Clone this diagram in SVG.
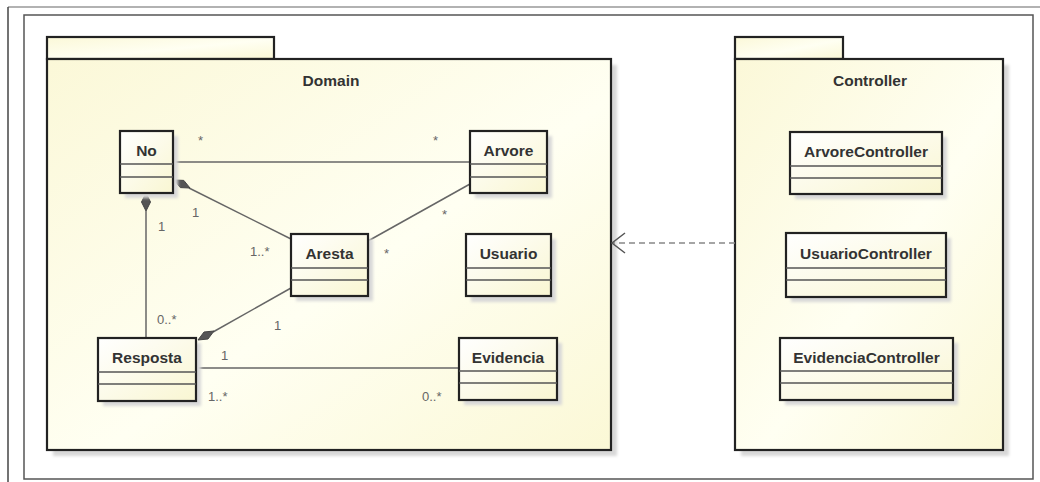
<svg xmlns="http://www.w3.org/2000/svg" width="1040" height="482" viewBox="0 0 1040 482">
<style>
.pkg{fill:url(#pg);stroke:#222;stroke-width:2.2}
.cls{fill:url(#cg);stroke:#222;stroke-width:2.2}
.div{stroke:#555;stroke-width:1.3}
.sh{fill:#d8d8d8;filter:url(#bl)}
.name{font-family:"Liberation Sans",Arial,sans-serif;font-size:15.5px;font-weight:bold;fill:#333;text-anchor:middle}
.pname{font-family:"Liberation Sans",Arial,sans-serif;font-size:15.5px;font-weight:bold;fill:#333;text-anchor:middle}
.lbl{font-family:"Liberation Sans",Arial,sans-serif;font-size:13px;fill:#666}
.ln{stroke:#666;stroke-width:1.5;fill:none}
.dia{fill:#555;stroke:#444;stroke-width:1}
.dep{stroke:#888;stroke-width:1.5;stroke-dasharray:6 4;fill:none}
</style>
<defs>
<linearGradient id="pg" x1="0" y1="0" x2="1" y2="1">
<stop offset="0" stop-color="#fbf8d8"/>
<stop offset="0.55" stop-color="#fffff2"/>
<stop offset="1" stop-color="#fbf8d6"/>
</linearGradient>
<linearGradient id="cg" x1="0" y1="0" x2="1" y2="1">
<stop offset="0" stop-color="#ffffff"/>
<stop offset="1" stop-color="#f9f6d2"/>
</linearGradient>
<filter id="bl" x="-10%" y="-10%" width="120%" height="120%"><feGaussianBlur stdDeviation="1.5"/></filter>
</defs>
<rect width="1040" height="482" fill="#ffffff"/>
<g id="frame">
<line x1="8" y1="7" x2="1040" y2="7" stroke="#999" stroke-width="1.5"/>
<line x1="8" y1="7" x2="8" y2="482" stroke="#444" stroke-width="1.5"/>
<rect x="24" y="15" width="1009" height="464" fill="none" stroke="#555" stroke-width="1.5"/>
</g>
<g id="pkg-domain">
<rect class="sh" x="53" y="65" width="564" height="391"/>
<rect class="pkg" x="47" y="37" width="227" height="22"/>
<rect class="pkg" x="47" y="59" width="564" height="391"/>
<text class="pname" x="331" y="86">Domain</text>
</g>
<g id="pkg-controller">
<rect class="sh" x="741" y="65" width="268" height="391"/>
<rect class="pkg" x="735" y="37" width="108" height="22"/>
<rect class="pkg" x="735" y="59" width="268" height="391"/>
<text class="pname" x="870" y="86">Controller</text>
</g>
<g id="connectors">
<line class="ln" x1="173" y1="162" x2="470" y2="162"/>
<line class="ln" x1="189" y1="188" x2="291" y2="239"/>
<line class="ln" x1="146" y1="211" x2="146" y2="338"/>
<line class="ln" x1="470" y1="184" x2="368" y2="241"/>
<line class="ln" x1="213" y1="332" x2="291" y2="288"/>
<line class="ln" x1="196" y1="368" x2="459" y2="368"/>
<polygon class="dia" points="174,180 183.8,180.4 190,188 180.3,187.6"/>
<polygon class="dia" points="146,193 150.5,202 146,211 141.5,202"/>
<polygon class="dia" points="198,340 204,332 214,331 208,339"/>
<line class="dep" x1="735" y1="243" x2="613" y2="243"/>
<polyline points="625,233 612,243 625,253" fill="none" stroke="#555" stroke-width="1.5"/>
<text class="lbl" x="198" y="145">*</text>
<text class="lbl" x="433" y="145">*</text>
<text class="lbl" x="192" y="217">1</text>
<text class="lbl" x="250" y="256">1..*</text>
<text class="lbl" x="158" y="231">1</text>
<text class="lbl" x="157" y="324">0..*</text>
<text class="lbl" x="442" y="219">*</text>
<text class="lbl" x="384" y="258">*</text>
<text class="lbl" x="274" y="330">1</text>
<text class="lbl" x="221" y="360">1</text>
<text class="lbl" x="208" y="401">1..*</text>
<text class="lbl" x="422" y="401">0..*</text>
</g>
<g id="No">
<rect class="sh" x="125" y="136" width="53" height="62"/>
<rect class="cls" x="120" y="131" width="53" height="62"/>
<line class="div" x1="120" y1="164" x2="173" y2="164"/>
<line class="div" x1="120" y1="177" x2="173" y2="177"/>
<text class="name" x="146.5" y="156">No</text>
</g>
<g id="Arvore">
<rect class="sh" x="475" y="136" width="77" height="62"/>
<rect class="cls" x="470" y="131" width="77" height="62"/>
<line class="div" x1="470" y1="164" x2="547" y2="164"/>
<line class="div" x1="470" y1="177" x2="547" y2="177"/>
<text class="name" x="508.5" y="156">Arvore</text>
</g>
<g id="Aresta">
<rect class="sh" x="296" y="239" width="77" height="62"/>
<rect class="cls" x="291" y="234" width="77" height="62"/>
<line class="div" x1="291" y1="268" x2="368" y2="268"/>
<line class="div" x1="291" y1="280" x2="368" y2="280"/>
<text class="name" x="329.5" y="259">Aresta</text>
</g>
<g id="Usuario">
<rect class="sh" x="471" y="239" width="85" height="63"/>
<rect class="cls" x="466" y="234" width="85" height="62"/>
<line class="div" x1="466" y1="268" x2="551" y2="268"/>
<line class="div" x1="466" y1="280" x2="551" y2="280"/>
<text class="name" x="508.5" y="259">Usuario</text>
</g>
<g id="Evidencia">
<rect class="sh" x="464" y="343" width="98" height="62"/>
<rect class="cls" x="459" y="338" width="98" height="62"/>
<line class="div" x1="459" y1="371" x2="557" y2="371"/>
<line class="div" x1="459" y1="383" x2="557" y2="383"/>
<text class="name" x="508" y="363">Evidencia</text>
</g>
<g id="Resposta">
<rect class="sh" x="103" y="343" width="98" height="63"/>
<rect class="cls" x="98" y="338" width="98" height="63"/>
<line class="div" x1="98" y1="372" x2="196" y2="372"/>
<line class="div" x1="98" y1="384" x2="196" y2="384"/>
<text class="name" x="147" y="363">Resposta</text>
</g>
<g id="ArvoreController">
<rect class="sh" x="795" y="137" width="152" height="62"/>
<rect class="cls" x="790" y="132" width="152" height="62"/>
<line class="div" x1="790" y1="166" x2="942" y2="166"/>
<line class="div" x1="790" y1="178" x2="942" y2="178"/>
<text class="name" x="866" y="157">ArvoreController</text>
</g>
<g id="UsuarioController">
<rect class="sh" x="791" y="238" width="160" height="64"/>
<rect class="cls" x="786" y="233" width="160" height="64"/>
<line class="div" x1="786" y1="268" x2="946" y2="268"/>
<line class="div" x1="786" y1="280" x2="946" y2="280"/>
<text class="name" x="866" y="259">UsuarioController</text>
</g>
<g id="EvidenciaController">
<rect class="sh" x="785" y="343" width="173" height="62"/>
<rect class="cls" x="780" y="338" width="173" height="62"/>
<line class="div" x1="780" y1="371" x2="953" y2="371"/>
<line class="div" x1="780" y1="383" x2="953" y2="383"/>
<text class="name" x="866.5" y="363">EvidenciaController</text>
</g>
</svg>
